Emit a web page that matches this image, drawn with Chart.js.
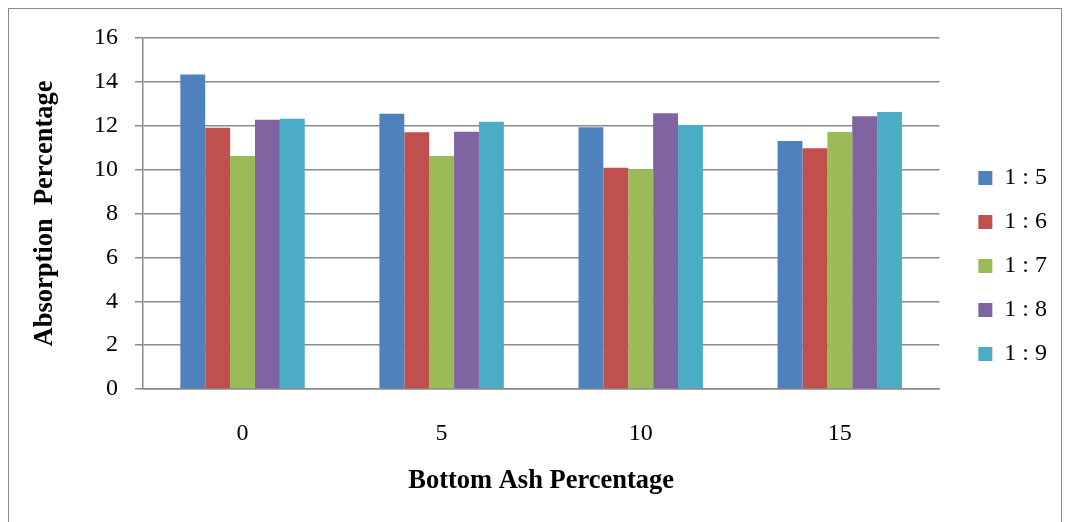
<!DOCTYPE html>
<html>
<head>
<meta charset="utf-8">
<script src="https://cdn.jsdelivr.net/npm/chart.js@4.4.1/dist/chart.umd.min.js"></script>
<style>
  html, body { margin: 0; padding: 0; background: #fff; overflow: hidden; }
  #wrap { position: relative; width: 1066px; height: 522px; }
  #frame { position: absolute; left: 8px; top: 8px; width: 1054px; height: 540px;
           border: 1.5px solid #8a8a8a; box-sizing: border-box; }
  canvas { position: absolute; left: 0; top: 0; }
</style>
</head>
<body>
<div id="wrap">
  <div id="frame"></div>
  <canvas id="c" width="1066" height="522"></canvas>
</div>
<script>
// Bottom ash replacement levels (%)
const categories = ['0', '5', '10', '15'];

// Mix ratios shown in the legend
const seriesNames = ['1 : 5', '1 : 6', '1 : 7', '1 : 8', '1 : 9'];

// Water absorption (%) for each ratio, per bottom ash level
const ratio15 = [14.34, 12.55, 11.93, 11.30];
const ratio16 = [11.91, 11.70, 10.09, 10.97];
const ratio17 = [10.62, 10.62, 10.02, 11.71];
const ratio18 = [12.27, 11.73, 12.57, 12.43];
const ratio19 = [12.32, 12.18, 12.03, 12.63];

const yTicks = [0, 2, 4, 6, 8, 10, 12, 14, 16];

const seriesValues = [ratio15, ratio16, ratio17, ratio18, ratio19];
const seriesColors = ['#4F81BD', '#C0504D', '#9BBB59', '#8064A2', '#4BACC6'];

const serif = "'Liberation Serif', 'Times New Roman', serif";
const gridColor = '#8a8a8a';

// Leave a wider gap between the plot area and the legend entries
const legendGap = {
  id: 'legendGap',
  afterLayout(chart) {
    if (chart.legend) {
      chart.legend.left += 19;
      chart.legend.right += 19;
    }
  }
};

new Chart(document.getElementById('c'), {
  type: 'bar',
  data: {
    labels: categories,
    datasets: seriesNames.map((name, i) => ({
      label: name,
      data: seriesValues[i],
      backgroundColor: seriesColors[i],
      borderWidth: 0,
      barPercentage: 1.0,
      categoryPercentage: 0.625
    }))
  },
  plugins: [legendGap],
  options: {
    responsive: false,
    animation: false,
    devicePixelRatio: 1,
    layout: { padding: { left: 0, top: 38, right: 28, bottom: 28 } },
    plugins: {
      tooltip: { enabled: false },
      legend: {
        position: 'right',
        labels: {
          font: { family: serif, size: 24 },
          color: '#000',
          boxWidth: 14,
          boxHeight: 14,
          padding: 20
        }
      }
    },
    scales: {
      x: {
        grid: { display: false, drawTicks: false },
        border: { display: true, color: gridColor, width: 1.5 },
        ticks: { font: { family: serif, size: 24 }, color: '#000', padding: 30 },
        title: {
          display: true,
          text: 'Bottom Ash Percentage',
          font: { family: serif, size: 26.5, weight: 'bold' },
          color: '#000',
          padding: { top: 0, bottom: -3 }
        },
        afterFit: (scale) => { scale.height = 522 - 28 - 389; }
      },
      y: {
        min: 0,
        max: 16,
        afterBuildTicks: (scale) => { scale.ticks = yTicks.map(v => ({ value: v })); },
        grid: { color: gridColor, lineWidth: 1.5, tickLength: 8, drawTicks: true },
        border: { display: true, color: gridColor, width: 1.5 },
        ticks: { font: { family: serif, size: 24 }, color: '#000', padding: 17 },
        title: {
          display: true,
          text: 'Absorption  Percentage',
          font: { family: serif, size: 26.5, weight: 'bold' },
          color: '#000',
          padding: { top: 29, bottom: 0 }
        },
        afterFit: (scale) => { scale.width = 143; }
      }
    }
  }
});
</script>
</body>
</html>
